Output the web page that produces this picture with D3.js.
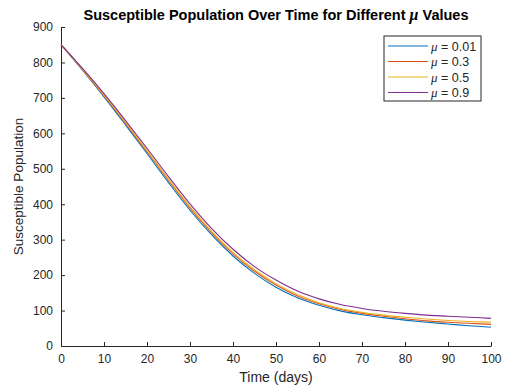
<!DOCTYPE html>
<html lang="en">
<head>
  <meta charset="UTF-8">
  <title>Susceptible Population Over Time</title>
  <script src="https://d3js.org/d3.v7.min.js"></script>
  <style>
    body { margin: 0; padding: 0; background: #fff; }
    text { font-family: "Liberation Sans", Arial, sans-serif; fill: #262626; }
    .mu { font-family: "Liberation Serif", "DejaVu Serif", serif; font-style: italic; }
  </style>
</head>
<body>
  <div id="chart"></div>

  <script>
    // time points (days)
    const days = [0, 5, 10, 15, 20, 25, 30, 35, 40, 45, 50, 55, 60, 65, 70, 75, 80, 85, 90, 95, 100];

    // susceptible population for each mu value
    const sMu001 = [850, 778, 703, 624, 543, 461, 383, 314, 254, 205, 166, 136, 115, 99, 88, 80, 73, 67, 62, 57, 53];
    const sMu03  = [850, 780, 706, 628, 548, 467, 389, 320, 260, 211, 172, 141, 119, 103, 92, 84, 77, 71, 67, 64, 61];
    const sMu05  = [850, 781, 708, 631, 552, 471, 393, 324, 264, 215, 176, 145, 122, 106, 95, 87, 81, 76, 72, 69, 67];
    const sMu09  = [850, 783, 712, 636, 558, 478, 401, 332, 273, 224, 186, 155, 133, 117, 106, 98, 92, 87, 84, 81, 78];

    const seriesNames = ["0.01", "0.3", "0.5", "0.9"];
    const seriesValues = [sMu001, sMu03, sMu05, sMu09];
    const colors = ["#0072BD", "#D95319", "#EDB120", "#7E2F8E"];

    const xTicks = [0, 10, 20, 30, 40, 50, 60, 70, 80, 90, 100];
    const yTicks = [0, 100, 200, 300, 400, 500, 600, 700, 800, 900];

    const width = 507, height = 387;
    const margin = { top: 27, right: 16, bottom: 41, left: 61 };

    const svg = d3.select("#chart")
                  .append("svg")
                  .attr("width", width)
                  .attr("height", height);

    const x = d3.scaleLinear()
                .domain([0, 100])
                .range([margin.left, width - margin.right]);

    const y = d3.scaleLinear()
                .domain([0, 900])
                .range([height - margin.bottom, margin.top]);

    // axes, ticks pointing inward like matlab
    const xAxis = svg.append("g")
       .attr("transform", `translate(0,${height - margin.bottom})`)
       .call(d3.axisBottom(x).tickValues(xTicks).tickSizeInner(-4).tickSizeOuter(0).tickPadding(8));

    const yAxis = svg.append("g")
       .attr("transform", `translate(${margin.left},0)`)
       .call(d3.axisLeft(y).tickValues(yTicks).tickSizeInner(-4).tickSizeOuter(0).tickPadding(8));

    [xAxis, yAxis].forEach(g => {
      g.select(".domain").attr("stroke", "#262626");
      g.selectAll(".tick line").attr("stroke", "#262626");
      g.selectAll(".tick text")
       .attr("fill", "#262626")
       .style("font-family", "'Liberation Sans', Arial, sans-serif")
       .style("font-size", "12px");
    });

    // lines
    const line = d3.line()
                   .x((d, i) => x(days[i]))
                   .y(d => y(d))
                   .curve(d3.curveMonotoneX);

    svg.selectAll(".series")
       .data(seriesValues)
       .enter()
       .append("path")
       .attr("class", "series")
       .attr("d", d => line(d))
       .attr("fill", "none")
       .attr("stroke", (d, i) => colors[i])
       .attr("stroke-width", 1.1);

    // title
    const title = svg.append("text")
       .attr("x", (margin.left + width - margin.right) / 2)
       .attr("y", 20)
       .attr("text-anchor", "middle")
       .style("font-size", "14.5px")
       .style("font-weight", "bold")
       .style("fill", "#000");
    title.append("tspan").text("Susceptible Population Over Time for Different ");
    title.append("tspan").attr("class", "mu").style("font-size", "16px").text("μ");
    title.append("tspan").text(" Values");

    // axis labels
    svg.append("text")
       .attr("x", (margin.left + width - margin.right) / 2)
       .attr("y", 382)
       .attr("text-anchor", "middle")
       .style("font-size", "14px")
       .text("Time (days)");

    svg.append("text")
       .attr("transform", `translate(23,${(margin.top + height - margin.bottom) / 2}) rotate(-90)`)
       .attr("text-anchor", "middle")
       .style("font-size", "13.5px")
       .text("Susceptible Population");

    // legend
    const legend = svg.append("g").attr("transform", "translate(384,36)");
    legend.append("rect")
       .attr("width", 97)
       .attr("height", 65)
       .attr("fill", "#fff")
       .attr("stroke", "#262626")
       .attr("stroke-width", 1);

    const rows = legend.selectAll(".row")
       .data(seriesNames)
       .enter()
       .append("g")
       .attr("class", "row")
       .attr("transform", (d, i) => `translate(0,${10 + i * 15.5})`);

    rows.append("line")
       .attr("x1", 4).attr("x2", 44)
       .attr("stroke", (d, i) => colors[i])
       .attr("stroke-width", 1.1);

    const lt = rows.append("text")
       .attr("x", 47)
       .attr("y", 4.5)
       .style("font-size", "12.5px");
    lt.append("tspan").attr("class", "mu").style("font-size", "13px").text("μ");
    lt.append("tspan").text(d => " = " + d);
  </script>
</body>
</html>
